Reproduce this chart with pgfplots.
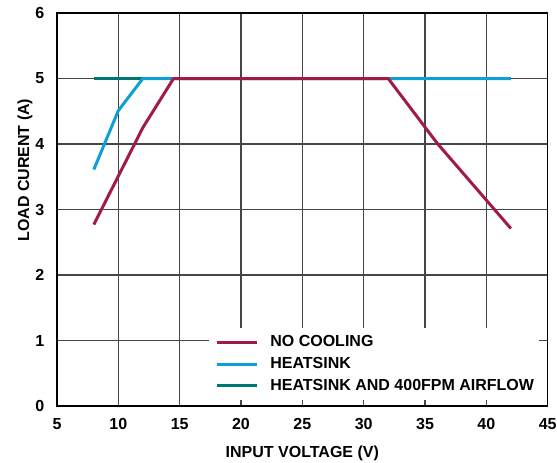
\documentclass[border=0pt]{standalone}
\usepackage{fontspec}
\setmainfont{Liberation Sans}
\usepackage{pgfplots}
\pgfplotsset{compat=1.18}

\definecolor{nocool}{RGB}{160,27,74}
\definecolor{heatsink}{RGB}{12,160,214}
\definecolor{airflow}{RGB}{0,118,112}
\definecolor{gridc}{RGB}{70,70,70}

\pgfplotstableread{
x y
8 2.77
10 3.51
12 4.25
14.5 5
32 5
36 4.01
42 2.71
}\nocooling

\pgfplotstableread{
x y
8 3.61
10 4.51
12 5
42 5
}\heatsinkdata

\pgfplotstableread{
x y
8 5
42 5
}\airflowdata

\begin{document}
\begin{tikzpicture}
% fixed frame: axis box is 368pt x 294.75pt with its lower left corner at the origin
\useasboundingbox (-42.75pt,-42pt) rectangle (375pt,304.5pt);
\begin{axis}[
    at={(0,0)}, anchor=south west,
    scale only axis,
    width=368pt, height=294.75pt,
    xmin=5, xmax=45, ymin=0, ymax=6,
    xtick={5,10,...,45}, ytick={0,1,...,6},
    grid=major,
    major grid style={gridc, line width=0.95pt},
    axis line style={black, line width=1.2pt},
    tick style={gridc, line width=0.95pt},
    tick align=inside, tick pos=both,
    major tick length=6pt,
    /pgf/number format/assume math mode=true,
    tick label style={font=\fontsize{12}{14}\selectfont\bfseries},
    xticklabel style={yshift=-6pt},
    yticklabel style={xshift=-6pt},
    label style={font=\fontsize{12}{14}\selectfont\bfseries},
    xlabel={INPUT VOLTAGE (V)},
    ylabel={LOAD CURENT (A)},
    xlabel style={at={(axis description cs:0.5,-0.1215)}, anchor=center},
    ylabel style={at={(axis description cs:-0.0654,0.6)}, anchor=center},
    reverse legend,
    legend cell align=left,
    legend style={
        at={(1,0)}, anchor=south east, xshift=-6pt, yshift=4pt,
        fill=white, draw=none,
        font=\fontsize{12}{14}\selectfont\bfseries,
        inner xsep=2pt, inner ysep=4pt,
        row sep=2.4pt,
        /tikz/every odd column/.append style={column sep=7pt},
    },
    legend image code/.code={\path (0pt,0pt); \draw[#1, line width=2.25pt] (3pt,0pt) -- (33pt,0pt);},
    every axis plot/.append style={line width=2.25pt, line join=miter},
]
\addplot[airflow] table {\airflowdata};
\addlegendentry{HEATSINK AND 400FPM AIRFLOW}
\addplot[heatsink] table {\heatsinkdata};
\addlegendentry{HEATSINK}
\addplot[nocool] table {\nocooling};
\addlegendentry{NO COOLING}
\end{axis}
\end{tikzpicture}
\end{document}
